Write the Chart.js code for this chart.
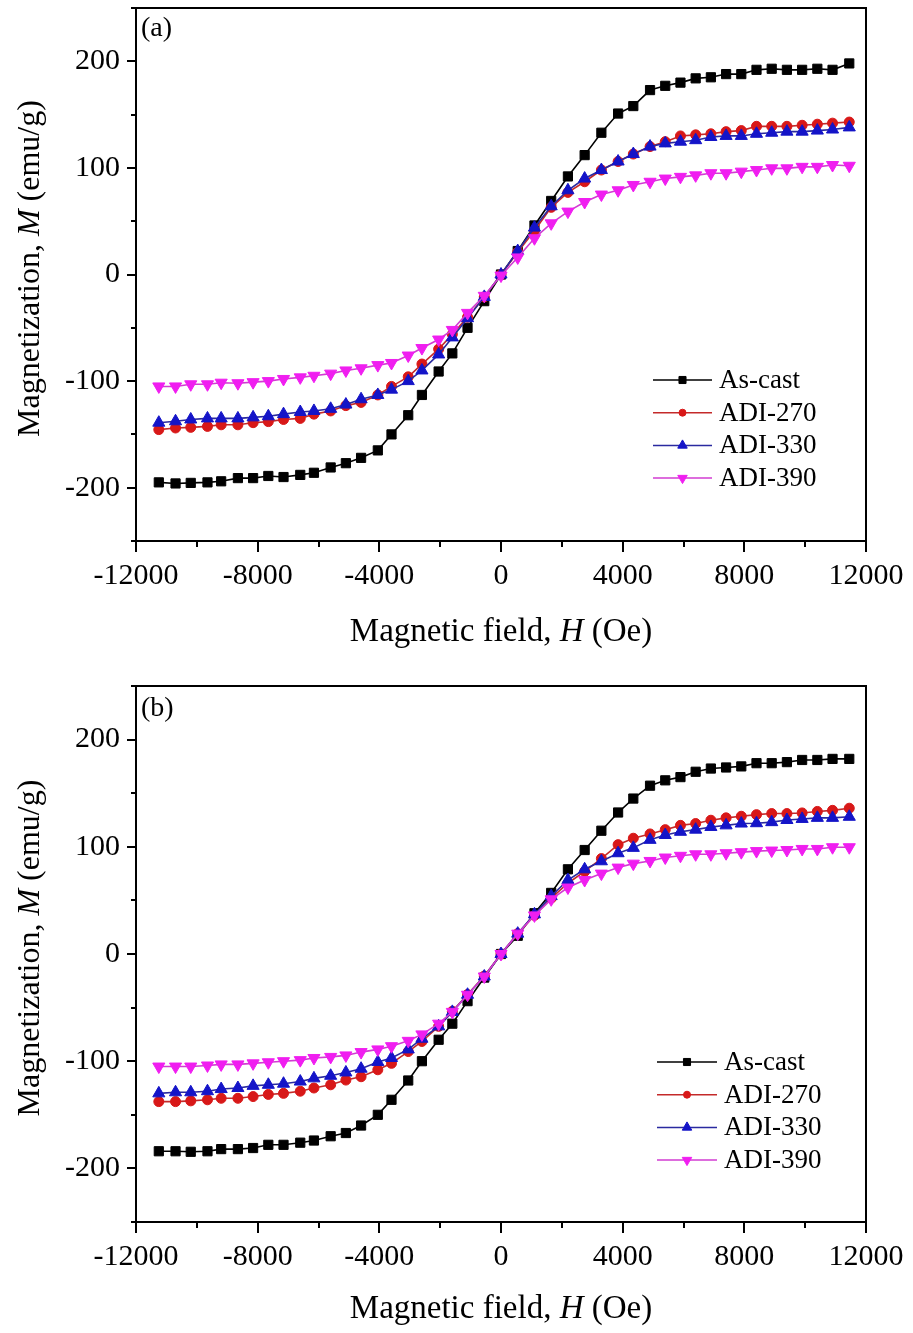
<!DOCTYPE html>
<html><head><meta charset="utf-8">
<script src="https://cdn.jsdelivr.net/npm/chart.js@4.4.0/dist/chart.umd.min.js"></script>
<style>
html,body{margin:0;padding:0;background:#fff;}
#wrap{position:relative;width:913px;height:1333px;overflow:hidden;background:#fff;}
canvas{position:absolute;left:0;}
</style></head><body>
<div id="wrap">
<canvas id="ca" width="913" height="670" style="top:0"></canvas>
<canvas id="cb" width="913" height="663" style="top:670px"></canvas>
</div>
<script>
// ---------------- DATA ----------------
const H_FIELD = [-11250, -10700, -10200, -9650, -9200, -8650, -8150, -7650, -7150, -6600, -6150, -5600, -5100, -4600, -4050, -3600, -3050, -2600, -2050, -1600, -1100, -550, 0,
  550, 1100, 1650, 2200, 2750, 3300, 3850, 4350, 4900, 5400, 5900, 6400, 6900, 7400, 7900, 8400, 8900, 9400, 9900, 10400, 10900, 11450];

const SERIES_NAMES = ['As-cast', 'ADI-270', 'ADI-330', 'ADI-390'];

// panel (a)
const A_ASCAST = [-195, -196, -195.5, -195, -194, -191, -191, -189, -190, -188, -186, -181, -177, -172, -165, -150, -132, -113, -91, -74, -50, -25, 0,
  22, 46, 69, 92, 112, 133, 151, 158, 173, 177, 180, 184, 185, 188, 188, 192, 193, 192, 192, 193, 192, 198];
const A_ADI270 = [-145.5, -144, -143.4, -142.5, -141, -141, -139, -138, -136, -135, -131, -128, -123, -120, -113, -105, -96, -84, -70, -56, -40, -21, 0,
  21, 41, 63, 77, 87, 98, 106, 113, 120, 124.6, 130, 131, 132, 134, 135, 139, 139, 139, 140, 141, 142, 143];
const A_ADI330 = [-139, -137.7, -136, -135, -135, -135, -134, -133, -131, -129, -128, -126, -122, -117, -113, -108, -100, -90, -75, -59, -41, -21, 0,
  22, 44, 64, 79, 90, 98, 106, 113, 120, 123, 124.6, 126, 129, 130, 130, 132, 133, 134, 134, 135, 136, 138];
const A_ADI390 = [-105, -105, -103, -103, -101.5, -102, -101, -100, -98, -96.5, -95, -93, -90, -88, -85, -83, -76, -69, -61, -52, -36, -20, -1,
  16, 34, 48, 59, 68, 75, 79, 84, 87, 90, 91.6, 93, 95, 95, 96.5, 98, 99.6, 99.6, 101, 101, 102.7, 102];

// panel (b)
const B_ASCAST = [-184, -184, -184.5, -184, -182, -182, -181, -178, -178, -176, -174, -170, -167, -160, -150, -136, -118, -100, -80, -65, -44, -22, 0,
  17, 38, 57, 79, 97, 115, 132, 145, 157, 162, 165, 170, 173, 174, 175, 178, 178, 179, 181, 181, 182, 182];
const B_ADI270 = [-137.7, -137.7, -137, -136, -134.6, -134.6, -133, -131, -130, -128, -125, -122, -117.6, -114.5, -108, -102, -91, -81.6, -67.5, -53.5, -37.8, -20.6, 0,
  19, 36, 52, 66, 77, 89, 102, 108, 112, 116, 120, 121.7, 124.8, 127, 128.5, 130, 131, 131, 131.6, 133, 134, 136];
const B_ADI330 = [-130, -129, -129, -128, -126, -125, -123, -122, -121, -119, -116, -113.6, -110.5, -107, -100.7, -97, -89, -79, -67.5, -54, -38, -21, 0,
  19, 37, 54, 69, 79, 86.5, 94, 99, 106.5, 111, 114, 116, 118.5, 120, 121.7, 122, 123, 125, 126, 127, 127, 128];
const B_ADI390 = [-105, -105, -105, -104, -103, -103, -102, -101, -100, -99, -97, -96, -94.6, -91.5, -89, -86, -81, -75, -65, -54, -38, -21, 0,
  19, 36, 51, 62, 69, 75, 80.6, 84.3, 86.8, 90, 91.6, 93, 93, 94, 95, 96, 96.5, 97, 98, 98, 99.6, 99.6];

const X_TICKS = [-12000, -8000, -4000, 0, 4000, 8000, 12000];
const X_MINOR = [-10000, -6000, -2000, 2000, 6000, 10000];
const Y_TICKS = [-200, -100, 0, 100, 200];
const Y_MINOR = [-250, -150, -50, 50, 150, 250];

// ---------------- STYLE ----------------
const FONT = "'Liberation Serif', 'Times New Roman', 'DejaVu Serif', serif";
const LINE_COLORS = ['#000000', '#c42a2a', '#2a2aa0', '#d23cd2'];
const MARK_COLORS = ['#000000', '#d81818', '#1414c8', '#f01ef0'];
const STYLES = ['rect', 'circle', 'triangle', 'triangle'];
const ROT = [0, 0, 0, 180];
const RAD = [6.5, 5, 7, 7];
const ORDERS = [3, 2, 1, 0];

function drawMarker(ctx, style, rot, r, x, y, color) {
  ctx.save();
  ctx.fillStyle = color; ctx.strokeStyle = color; ctx.lineWidth = 1;
  ctx.translate(x, y);
  ctx.rotate(rot * Math.PI / 180);
  ctx.beginPath();
  if (style === 'rect') {
    const s = r * Math.SQRT1_2;
    ctx.rect(-s, -s, 2 * s, 2 * s);
  } else if (style === 'circle') {
    ctx.arc(0, 0, r, 0, Math.PI * 2);
  } else {
    ctx.moveTo(0, -r);
    ctx.lineTo(r * Math.cos(Math.PI / 6), r * 0.5);
    ctx.lineTo(-r * Math.cos(Math.PI / 6), r * 0.5);
    ctx.closePath();
  }
  ctx.fill(); ctx.stroke();
  ctx.restore();
}

function drawMixed(ctx, parts, size) {
  let total = 0;
  const widths = parts.map(p => {
    ctx.font = (p.i ? 'italic ' : '') + size + 'px ' + FONT;
    const w = ctx.measureText(p.t).width; total += w; return w;
  });
  let x = -total / 2;
  parts.forEach((p, k) => {
    ctx.font = (p.i ? 'italic ' : '') + size + 'px ' + FONT;
    ctx.fillText(p.t, x, 0);
    x += widths[k];
  });
}

function decoPlugin(cfg) {
  return {
    id: 'deco',
    afterDraw(chart) {
      const ctx = chart.ctx;
      const a = chart.chartArea;
      const xs = chart.scales.x, ys = chart.scales.y;
      ctx.save();
      ctx.strokeStyle = '#000';
      ctx.fillStyle = '#000';
      // frame
      ctx.lineWidth = 2;
      ctx.strokeRect(a.left, a.top, a.right - a.left, a.bottom - a.top);
      // ticks
      ctx.lineWidth = 2;
      ctx.beginPath();
      X_TICKS.forEach(v => { const p = Math.round(xs.getPixelForValue(v)); ctx.moveTo(p, a.bottom); ctx.lineTo(p, a.bottom + 11); });
      X_MINOR.forEach(v => { const p = Math.round(xs.getPixelForValue(v)); ctx.moveTo(p, a.bottom); ctx.lineTo(p, a.bottom + 6); });
      Y_TICKS.forEach(v => { const p = Math.round(ys.getPixelForValue(v)); ctx.moveTo(a.left, p); ctx.lineTo(a.left - 9, p); });
      Y_MINOR.forEach(v => { const p = Math.round(ys.getPixelForValue(v)); ctx.moveTo(a.left, p); ctx.lineTo(a.left - 5, p); });
      ctx.stroke();
      // panel label
      ctx.font = '28px ' + FONT;
      ctx.textAlign = 'left'; ctx.textBaseline = 'middle';
      ctx.fillText(cfg.panel, a.left + 5, cfg.panelY);
      // x title
      ctx.save();
      ctx.textAlign = 'left'; ctx.textBaseline = 'alphabetic';
      ctx.translate((a.left + a.right) / 2, cfg.xTitleY);
      drawMixed(ctx, [{t: 'Magnetic field, '}, {t: 'H', i: true}, {t: ' (Oe)'}], 33);
      ctx.restore();
      // y title
      ctx.save();
      ctx.textAlign = 'left'; ctx.textBaseline = 'alphabetic';
      ctx.translate(39, (a.top + a.bottom) / 2 - 6);
      ctx.rotate(-Math.PI / 2);
      drawMixed(ctx, [{t: 'Magnetization, '}, {t: 'M', i: true}, {t: ' (emu/g)'}], 32);
      ctx.restore();
      // legend
      chart.data.datasets.forEach((ds, i) => {
        const y = cfg.legY + i * cfg.legGap;
        ctx.strokeStyle = ds.borderColor; ctx.lineWidth = 1.5;
        ctx.beginPath(); ctx.moveTo(cfg.legX0, y); ctx.lineTo(cfg.legX1, y); ctx.stroke();
        drawMarker(ctx, ds.pointStyle, ds.pointRotation, ds.pointRadius - 1.5, (cfg.legX0 + cfg.legX1) / 2, y, ds.pointBackgroundColor);
        ctx.fillStyle = '#000';
        ctx.font = '27px ' + FONT;
        ctx.textAlign = 'left'; ctx.textBaseline = 'middle';
        ctx.fillText(ds.label, cfg.legX1 + 7, y + 1);
      });
      ctx.restore();
    }
  };
}

function zeroPad(s) { s.paddingTop = 0; s.paddingBottom = 0; s.paddingLeft = 0; s.paddingRight = 0; }

function makeChart(id, series, cfg) {
  const datasets = series.map((vals, i) => ({
    label: SERIES_NAMES[i],
    data: H_FIELD.map((h, k) => ({x: h, y: vals[k]})),
    showLine: true,
    borderColor: LINE_COLORS[i],
    backgroundColor: MARK_COLORS[i],
    pointBackgroundColor: MARK_COLORS[i],
    pointBorderColor: MARK_COLORS[i],
    pointStyle: STYLES[i],
    pointRotation: ROT[i],
    pointRadius: RAD[i],
    pointBorderWidth: 1,
    borderWidth: 1.6,
    order: ORDERS[i],
    tension: 0
  }));
  return new Chart(document.getElementById(id), {
    type: 'scatter',
    data: {datasets},
    options: {
      responsive: false, animation: false, devicePixelRatio: 1,
      layout: {padding: {top: cfg.top, right: 47, left: 0, bottom: 0}},
      plugins: {legend: {display: false}, tooltip: {enabled: false}},
      scales: {
        x: {
          type: 'linear', min: -12000, max: 12000,
          grid: {display: false, drawTicks: false}, border: {display: false},
          afterBuildTicks: s => { s.ticks = X_TICKS.map(v => ({value: v})); },
          afterFit: s => { s.height = cfg.xh; zeroPad(s); },
          ticks: {font: {family: FONT, size: 30}, color: '#000', padding: 17, maxRotation: 0, autoSkip: false, callback: v => String(v)}
        },
        y: {
          type: 'linear', min: -250, max: 250,
          grid: {display: false, drawTicks: false}, border: {display: false},
          afterBuildTicks: s => { s.ticks = Y_TICKS.map(v => ({value: v})); },
          afterFit: s => { s.width = 136; zeroPad(s); },
          ticks: {font: {family: FONT, size: 30}, color: '#000', padding: 16, autoSkip: false, callback: v => String(v)}
        }
      }
    },
    plugins: [decoPlugin(cfg)]
  });
}

makeChart('ca', [A_ASCAST, A_ADI270, A_ADI330, A_ADI390],
  {top: 5, xh: 129, panel: '(a)', panelY: 29, xTitleY: 641, legY: 380, legGap: 32.7, legX0: 653, legX1: 712});
makeChart('cb', [B_ASCAST, B_ADI270, B_ADI330, B_ADI390],
  {top: 16, xh: 111, panel: '(b)', panelY: 39, xTitleY: 648, legY: 392, legGap: 32.7, legX0: 657, legX1: 717});
</script>
</body></html>
